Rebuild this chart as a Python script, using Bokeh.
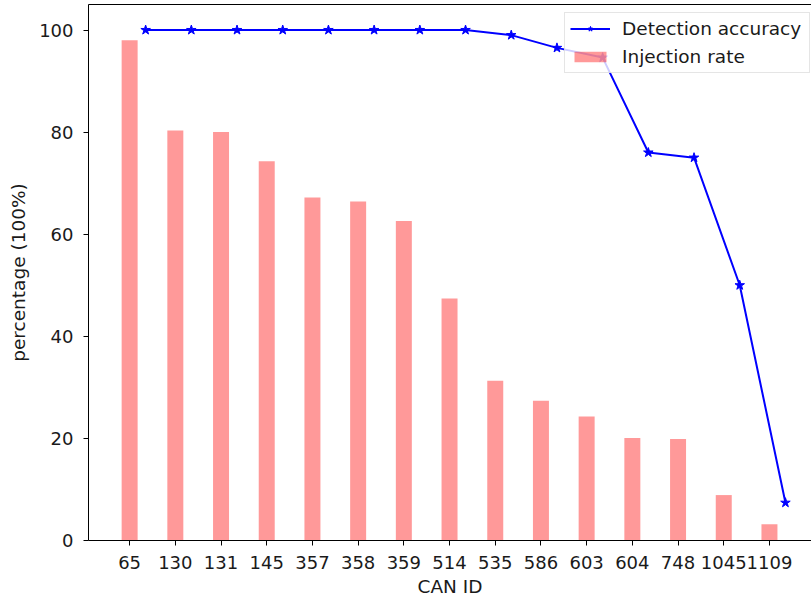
from bokeh.plotting import figure
from bokeh.models import FixedTicker, LinearAxis, Range1d, Legend, LegendItem, ColumnDataSource
from bokeh.embed import file_html
from bokeh.resources import INLINE

can_ids = ["65", "130", "131", "145", "357", "358", "359", "514",
           "535", "586", "603", "604", "748", "1045", "1109"]
injection_rate = [98.0, 80.3, 80.0, 74.3, 67.2, 66.4, 62.6, 47.4,
                  31.3, 27.4, 24.3, 20.1, 19.9, 8.9, 3.2]
detection_accuracy = [100, 100, 100, 100, 100, 100, 100, 100,
                      99.0, 96.5, 94.6, 76.0, 75.0, 50.0, 7.4]
y_ticks = [0, 20, 40, 60, 80, 100]

bar_width = 0.35
line_offset = 0.35
FONT = "DejaVu Sans"
TICK_SIZE = "18px"
LABEL_SIZE = "18.5px"
TEXT_COLOR = "#1a1a1a"

idx = list(range(len(can_ids)))
bar_src = ColumnDataSource(dict(x=idx, top=injection_rate))
line_src = ColumnDataSource(dict(x=[i + line_offset for i in idx], y=detection_accuracy))

p = figure(width=811, height=600, output_backend="svg", toolbar_location=None,
           x_range=Range1d(-0.9, 14.92), y_range=Range1d(0, 105),
           min_border_left=88, min_border_right=0, min_border_top=4, min_border_bottom=60)
p.outline_line_color = None
p.xgrid.grid_line_color = None
p.ygrid.grid_line_color = None
p.background_fill_color = "white"
p.border_fill_color = "white"

bars = p.vbar(x="x", top="top", width=bar_width, bottom=0, source=bar_src,
              fill_color="red", fill_alpha=0.4, line_color=None)
ln = p.line(x="x", y="y", source=line_src, line_color="blue", line_width=2)
mk = p.scatter(x="x", y="y", source=line_src, marker="star", size=10,
               fill_color="blue", line_color="blue")

for ax in (p.xaxis[0], p.yaxis[0]):
    ax.axis_line_color = "black"
    ax.major_tick_line_color = "black"
    ax.major_tick_in = 0
    ax.major_tick_out = 5
    ax.minor_tick_line_color = None
    ax.major_label_text_font = FONT
    ax.major_label_text_font_size = TICK_SIZE
    ax.major_label_text_color = TEXT_COLOR
    ax.axis_label_text_font = FONT
    ax.axis_label_text_font_size = LABEL_SIZE
    ax.axis_label_text_font_style = "normal"
    ax.axis_label_text_color = TEXT_COLOR

p.xaxis.ticker = FixedTicker(ticks=idx)
p.xaxis.major_label_overrides = {i: c for i, c in zip(idx, can_ids)}
p.xaxis.axis_label = "CAN ID"
p.xaxis.major_label_standoff = 10
p.xaxis.axis_label_standoff = 4

p.yaxis.ticker = FixedTicker(ticks=y_ticks)
p.yaxis.axis_label = "percentage (100%)"
p.yaxis.major_label_standoff = 10
p.yaxis.axis_label_standoff = 7

top_axis = LinearAxis(ticker=FixedTicker(ticks=[]), major_label_text_font_size="0px",
                      major_tick_out=0, minor_tick_out=0, major_tick_in=0, minor_tick_in=0,
                      major_label_standoff=0, axis_line_color="black")
p.add_layout(top_axis, "above")

legend = Legend(items=[LegendItem(label="Detection accuracy", renderers=[ln, mk]),
                       LegendItem(label="Injection rate", renderers=[bars])],
                location=(476, 467))
legend.label_text_font = FONT
legend.label_text_font_size = LABEL_SIZE
legend.label_text_color = TEXT_COLOR
legend.glyph_width = 40
legend.glyph_height = 13
legend.label_height = 13
legend.label_width = 182
legend.label_standoff = 12
legend.spacing = 7
legend.padding = 5
legend.margin = 0
legend.background_fill_color = "white"
legend.background_fill_alpha = 0.8
legend.border_line_color = "#cccccc"
legend.border_line_width = 1
p.add_layout(legend, "center")

open("out.html", "w").write(file_html(p, INLINE))
